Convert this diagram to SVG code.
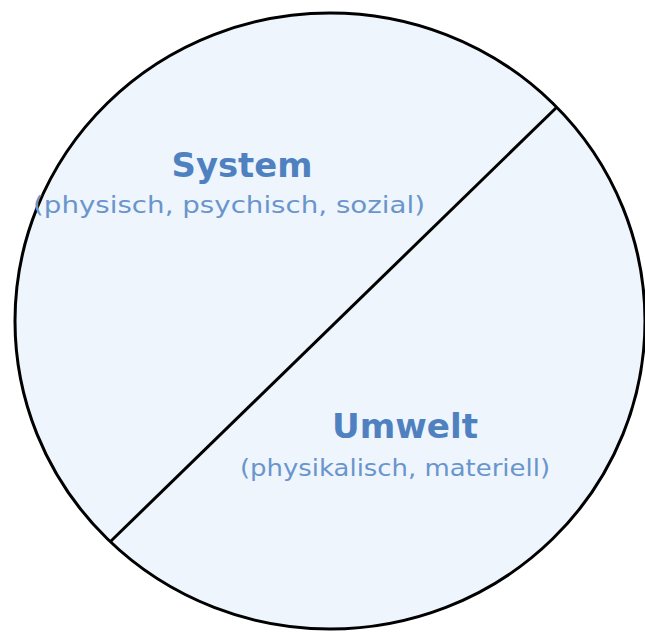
<svg xmlns="http://www.w3.org/2000/svg" width="645" height="632" viewBox="0 0 645 632">
<style>
.title{font-family:"DejaVu Sans","Open Sans",sans-serif;font-weight:bold;font-size:34px;fill:#4F81C1;text-anchor:middle}
.sub{font-family:"DejaVu Sans","Open Sans",sans-serif;font-size:23px;fill:#6A95CC;text-anchor:middle}
</style>
<rect width="645" height="632" fill="#FFFFFF"/>
<g id="circle">
<ellipse cx="330" cy="321" rx="315" ry="308" fill="#EEF5FC" stroke="#000" stroke-width="3"/>
</g>
<g id="connectors">
<line x1="557" y1="107" x2="111" y2="541" stroke="#000" stroke-width="3"/>
</g>
<g id="system">
<text class="title" x="242" y="177" textLength="141" lengthAdjust="spacingAndGlyphs">System</text>
<text class="sub" x="229" y="213" textLength="392" lengthAdjust="spacingAndGlyphs">(physisch, psychisch, sozial)</text>
</g>
<g id="umwelt">
<text class="title" x="405" y="438" textLength="146" lengthAdjust="spacingAndGlyphs">Umwelt</text>
<text class="sub" x="395" y="476" textLength="310" lengthAdjust="spacingAndGlyphs">(physikalisch, materiell)</text>
</g>
</svg>
